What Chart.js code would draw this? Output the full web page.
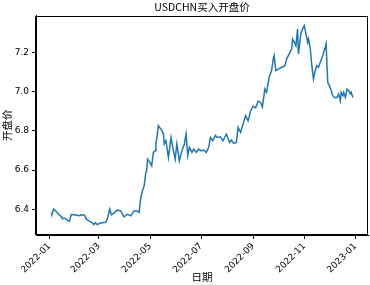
<!DOCTYPE html>
<html>
<head>
<meta charset="utf-8">
<script src="https://cdn.jsdelivr.net/npm/chart.js@4"></script>
<style>
html,body{margin:0;padding:0;background:#fff;}
#wrap{width:370px;height:285px;}
</style>
</head>
<body>
<div id="wrap"><canvas id="c" width="370" height="285"></canvas></div>
<script>
const dates = [
'2022-01-03','2022-01-04','2022-01-06','2022-01-09','2022-01-12','2022-01-15','2022-01-16','2022-01-19','2022-01-21','2022-01-23',
'2022-01-25','2022-01-27','2022-01-31','2022-02-06','2022-02-08','2022-02-12','2022-02-14','2022-02-17','2022-02-21','2022-02-23',
'2022-02-25','2022-02-27','2022-03-02','2022-03-05','2022-03-09','2022-03-11','2022-03-14','2022-03-16','2022-03-19','2022-03-23',
'2022-03-27','2022-03-31','2022-04-04','2022-04-08','2022-04-12','2022-04-16','2022-04-18','2022-04-20','2022-04-22','2022-04-24',
'2022-04-26','2022-04-27','2022-04-28','2022-05-01','2022-05-03','2022-05-05','2022-05-07','2022-05-08','2022-05-09','2022-05-11',
'2022-05-14','2022-05-17','2022-05-18','2022-05-20','2022-05-23','2022-05-26','2022-05-29','2022-05-31','2022-06-02','2022-06-05',
'2022-06-08','2022-06-11','2022-06-13','2022-06-15','2022-06-17','2022-06-20','2022-06-22','2022-06-25','2022-06-28','2022-07-01',
'2022-07-04','2022-07-07','2022-07-10','2022-07-12','2022-07-15','2022-07-18','2022-07-20','2022-07-24','2022-07-27','2022-07-29',
'2022-07-31','2022-08-04','2022-08-06','2022-08-09','2022-08-12','2022-08-14','2022-08-17','2022-08-20','2022-08-23','2022-08-26',
'2022-08-29','2022-09-01','2022-09-04','2022-09-07','2022-09-10','2022-09-12','2022-09-15','2022-09-17','2022-09-20','2022-09-23',
'2022-09-25','2022-09-26','2022-09-28','2022-10-01','2022-10-05','2022-10-09','2022-10-11','2022-10-14','2022-10-17','2022-10-18',
'2022-10-20','2022-10-22','2022-10-24','2022-10-25','2022-10-28','2022-10-30','2022-11-01','2022-11-03','2022-11-05','2022-11-06',
'2022-11-08','2022-11-10','2022-11-12','2022-11-14','2022-11-16','2022-11-18','2022-11-20','2022-11-23','2022-11-26','2022-11-27',
'2022-11-29','2022-12-01','2022-12-03','2022-12-05','2022-12-07','2022-12-10','2022-12-12','2022-12-14','2022-12-15','2022-12-17',
'2022-12-18','2022-12-20','2022-12-22','2022-12-24','2022-12-26','2022-12-27','2022-12-29'
];
const openPrices = [
6.381,6.376,6.400,6.388,6.374,6.362,6.355,6.354,6.349,6.342,
6.339,6.372,6.371,6.367,6.371,6.369,6.349,6.340,6.331,6.321,
6.331,6.321,6.328,6.331,6.333,6.349,6.400,6.371,6.380,6.395,
6.391,6.361,6.374,6.366,6.391,6.391,6.383,6.459,6.494,6.519,
6.587,6.596,6.656,6.638,6.622,6.690,6.698,6.741,6.758,6.826,
6.809,6.784,6.733,6.750,6.664,6.766,6.698,6.656,6.733,6.647,
6.698,6.733,6.784,6.673,6.716,6.690,6.707,6.690,6.707,6.698,
6.702,6.690,6.716,6.766,6.750,6.777,6.766,6.770,6.750,6.766,
6.784,6.741,6.753,6.736,6.741,6.818,6.792,6.835,6.877,6.851,
6.902,6.927,6.918,6.952,6.944,6.922,7.014,6.997,7.073,7.108,
7.168,7.185,7.108,7.116,7.125,7.133,7.168,7.193,7.219,7.270,
7.253,7.235,7.321,7.193,7.299,7.321,7.338,7.296,7.253,7.270,
7.227,7.133,7.065,7.108,7.133,7.125,7.150,7.185,7.227,7.244,
7.048,7.031,7.006,6.980,6.971,6.971,6.989,6.954,6.997,6.980,
6.997,6.971,7.014,7.005,6.989,6.997,6.971
];
const xTickLabels = ['2022-01','2022-03','2022-05','2022-07','2022-09','2022-11','2023-01'];
const yTickValues = [6.4, 6.6, 6.8, 7.0, 7.2];

const toTs = s => Date.parse(s + 'T00:00:00Z');
const xTickValues = xTickLabels.map(l => toTs(l + '-01'));
const points = dates.map((d, i) => ({x: toTs(d), y: openPrices[i]}));

const frame = {
  id: 'frame',
  afterDraw(chart) {
    const {ctx, chartArea: a} = chart;
    ctx.save();
    ctx.strokeStyle = '#000';
    ctx.lineWidth = 1;
    ctx.strokeRect(Math.round(a.left) - 0.5, Math.round(a.top) + 0.5, Math.round(a.right - a.left), Math.round(a.bottom - a.top) - 1);
    ctx.restore();
  }
};

const tickFont = {family: 'DejaVu Sans', size: 9};
const labelFont = {family: 'Noto Sans CJK SC', size: 10.5, weight: 'normal'};

new Chart(document.getElementById('c'), {
  type: 'line',
  data: {
    datasets: [{
      data: points,
      borderColor: '#1f77b4',
      borderWidth: 1.5,
      pointRadius: 0,
      tension: 0,
      fill: false
    }]
  },
  options: {
    responsive: false,
    animation: false,
    devicePixelRatio: 1,
    layout: {padding: {left: 0, right: 2, top: 0, bottom: 0}},
    plugins: {
      legend: {display: false},
      tooltip: {enabled: false},
      title: {
        display: true,
        text: 'USDCHN买入开盘价',
        fullSize: false,
        color: '#000',
        font: labelFont,
        padding: {top: 1, bottom: 2}
      }
    },
    scales: {
      x: {
        type: 'linear',
        min: toTs('2021-12-16'),
        max: toTs('2023-01-16'),
        afterBuildTicks: axis => { axis.ticks = xTickValues.map(v => ({value: v})); },
        afterFit: axis => { axis.height = 50; },
        ticks: {
          autoSkip: false,
          minRotation: 45,
          maxRotation: 45,
          color: '#000',
          font: tickFont,
          padding: 2,
          callback: v => { const i = xTickValues.indexOf(v); return i >= 0 ? xTickLabels[i] : ''; }
        },
        grid: {display: true, drawOnChartArea: false, drawTicks: true, tickLength: 4, color: '#000'},
        border: {display: true, color: '#000'},
        title: {display: true, text: '日期', color: '#000', font: labelFont, padding: {top: 0, bottom: 2}}
      },
      y: {
        type: 'linear',
        min: 6.268,
        max: 7.389,
        afterBuildTicks: axis => { axis.ticks = yTickValues.map(v => ({value: v})); },
        afterFit: axis => { axis.width = 36; },
        ticks: {
          color: '#000',
          font: tickFont,
          padding: 3,
          callback: v => Number(v).toFixed(1)
        },
        grid: {display: true, drawOnChartArea: false, drawTicks: true, tickLength: 4, color: '#000'},
        border: {display: true, color: '#000'},
        title: {display: true, text: '开盘价', color: '#000', font: labelFont, padding: {top: 1, bottom: 0}}
      }
    }
  },
  plugins: [frame]
});
</script>
</body>
</html>
